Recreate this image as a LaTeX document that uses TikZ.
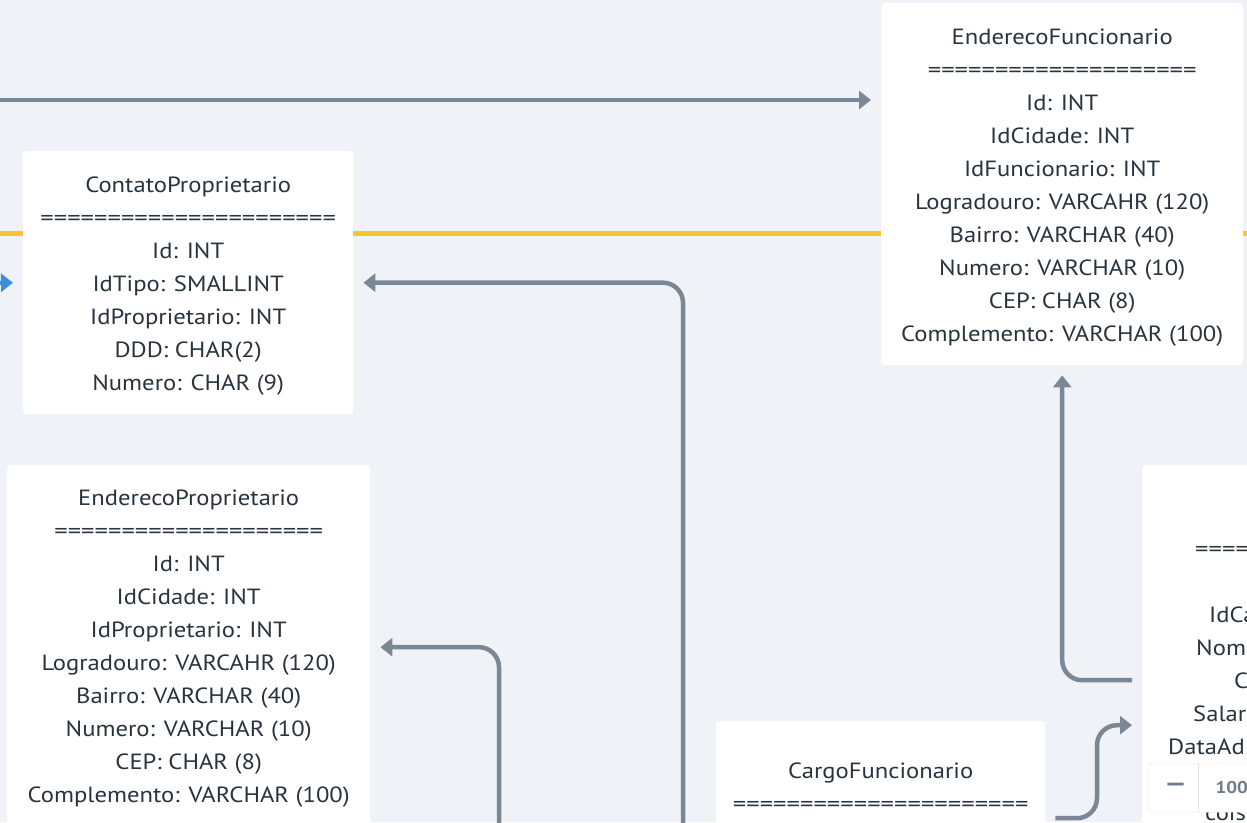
\documentclass[tikz,border=0pt]{standalone}
\usepackage{fontspec}
\setmainfont{PT Sans}[FakeStretch=1.12]
\usetikzlibrary{positioning,arrows.meta}
\definecolor{fundo}{HTML}{EFF2F6}
\definecolor{linha}{HTML}{7A8896}
\definecolor{amarelo}{HTML}{F6C42B}
\definecolor{azul}{HTML}{3D8FDB}
\definecolor{texto}{HTML}{28333E}
\definecolor{borda}{HTML}{E2E6EA}
\definecolor{cinzaZoom}{HTML}{6E7A88}
\newcommand{\separador}[1]{\scalebox{1.08}[1]{#1}}
\tikzstyle{tabela} = [rectangle, fill=white, rounded corners=3pt, anchor=north west, inner sep=0pt]
\tikzstyle{campos} = [anchor=north, align=center, inner sep=0pt, text=texto, font=\fontsize{22}{33}\selectfont]
\tikzstyle{parcial} = [anchor=base west, inner sep=0pt, text=texto, font=\fontsize{22}{33}\selectfont]
\tikzstyle{relacao} = [draw=linha, line width=4.5pt, rounded corners=20pt, shorten <=10pt, shorten >=10pt, -{Triangle[length=12pt,width=18pt]}]

\begin{document}
\begin{tikzpicture}[x=1pt,y=-1pt]
\useasboundingbox (0,0) rectangle (1247,822);
\clip (0,0) rectangle (1247,822);
\fill[fundo] (0,0) rectangle (1247,822);

% yellow line behind the tables
\coordinate (amareloIni) at (-10,233);
\coordinate (amareloFim) at (1260,233);
\draw[amarelo, line width=5pt] (amareloIni) -- (amareloFim);

% Define nodes
\node[tabela, minimum width=330, minimum height=263] (cp) at (23,151) {};
\node[campos, below=26pt of cp.north] (cpt) {ContatoProprietario\\\separador{======================}\\Id: INT\\IdTipo: SMALLINT\\IdProprietario: INT\\DDD: CHAR(2)\\Numero: CHAR (9)};

\node[tabela, minimum width=362, minimum height=362] (ef) at (881,3) {};
\node[campos, below=26pt of ef.north] (eft) {EnderecoFuncionario\\\separador{====================}\\Id: INT\\IdCidade: INT\\IdFuncionario: INT\\Logradouro: VARCAHR (120)\\Bairro: VARCHAR (40)\\Numero: VARCHAR (10)\\CEP: CHAR (8)\\Complemento: VARCHAR (100)};

\node[tabela, minimum width=363, minimum height=364] (ep) at (7,465) {};
\node[campos, below=25pt of ep.north] (ept) {EnderecoProprietario\\\separador{====================}\\Id: INT\\IdCidade: INT\\IdProprietario: INT\\Logradouro: VARCAHR (120)\\Bairro: VARCHAR (40)\\Numero: VARCHAR (10)\\CEP: CHAR (8)\\Complemento: VARCHAR (100)};

\node[tabela, minimum width=329, minimum height=194] (cf) at (716,721) {};
\node[campos, below=42pt of cf.north] (cft) {CargoFuncionario\\\separador{======================}};

\node[tabela, minimum width=400, minimum height=430] (fu) at (1142,465) {};
\node[parcial] (fu1) at (1195,556) {\separador{=====}};
\node[parcial] (fu2) at (1209,622) {IdCa};
\node[parcial] (fu3) at (1196,655) {Nome};
\node[parcial] (fu4) at (1234,688) {C};
\node[parcial] (fu5) at (1193,721) {Salar};
\node[parcial] (fu6) at (1168,754) {DataAd};
\node[parcial] (fu7) at (1205,820) {cois};

% Edges
\coordinate (origemTopo) at (-10,100);
\draw[relacao] (origemTopo) -- (origemTopo -| ef.west);
\coordinate (baseCP) at (683,840);
\draw[relacao] (baseCP) |- (cp.east);
\coordinate (baseEP) at (499,840);
\draw[relacao] (baseEP) |- (ep.east);
\draw[relacao] (fu.west) -| (ef.south);
\draw[relacao] (cf.east) -| ([xshift=-45pt,yshift=-45pt]fu.west) -- ([yshift=-45pt]fu.west);
\coordinate (origemAzul) at (-30,283);
\draw[azul, line width=4pt, shorten >=10pt, -{Triangle[length=12pt,width=18pt]}] (origemAzul) -- (cp.west);

% zoom control
\node[tabela, draw=borda, minimum width=150, minimum height=49] (zoomctl) at (1148,763) {};
\draw[borda, line width=1pt] ([xshift=50pt]zoomctl.north west) -- ([xshift=50pt]zoomctl.south west);
\node[text=cinzaZoom, font=\bfseries\fontsize{24}{24}\selectfont, right=13pt of zoomctl.west] (menos) {—};
\node[text=cinzaZoom, font=\bfseries\fontsize{17}{17}\selectfont, right=64pt of zoomctl.west] (pct) {100\%};
\end{tikzpicture}
\end{document}
